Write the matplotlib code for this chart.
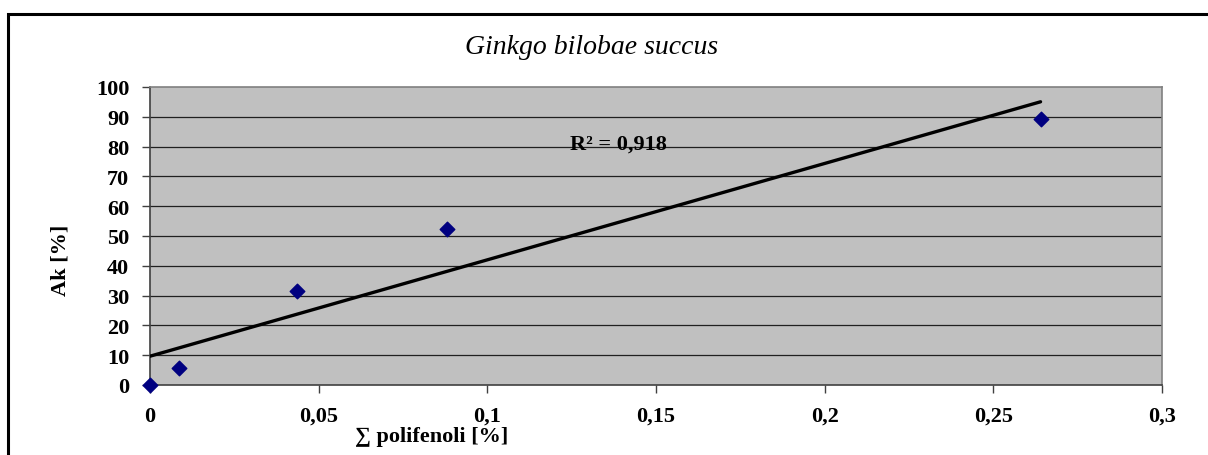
import numpy as np
import matplotlib.pyplot as plt
from matplotlib.patches import Rectangle
from matplotlib.ticker import FuncFormatter

plt.rcParams['font.family'] = ['Liberation Serif', 'DejaVu Serif']

# Ukupni polifenoli [%] i antioksidativna aktivnost Ak [%]
polifenoli = [0.0, 0.0085, 0.0436, 0.088, 0.264]
ak = [0.0, 5.8, 31.6, 52.4, 89.2]

x_ticks = [0, 0.05, 0.1, 0.15, 0.2, 0.25, 0.3]
y_ticks = list(range(0, 101, 10))

# linearni trend
k, n = np.polyfit(polifenoli, ak, 1)
pred = np.polyval([k, n], polifenoli)
r2 = 1 - np.sum((np.array(ak) - pred) ** 2) / np.sum((np.array(ak) - np.mean(ak)) ** 2)

fig = plt.figure(figsize=(12.08, 4.56), dpi=100)
W, H = 1208, 456
ax = fig.add_axes([150 / W, 1 - 386 / H, 1012 / W, 298 / H])

# okvir grafikona
fig.patches.append(Rectangle((8 / W, -0.05), 1.2, 1 - 15 / H + 0.05, transform=fig.transFigure,
                             fill=False, edgecolor='black', linewidth=2.2))

ax.set_facecolor('#c0c0c0')
for s in ax.spines.values():
    s.set_color('#808080')
    s.set_linewidth(1.2)
ax.spines['left'].set_color('#404040')
ax.spines['bottom'].set_color('#404040')

ax.set_xlim(0, 0.3)
ax.set_ylim(0, 100)
ax.set_xticks(x_ticks)
ax.set_yticks(y_ticks)
ax.xaxis.set_major_formatter(FuncFormatter(lambda v, p: ('%g' % v).replace('.', ',')))
ax.tick_params(axis='both', direction='out', length=6, width=1, color='#404040',
               labelsize=16)
ax.tick_params(axis='y', pad=9)
ax.tick_params(axis='x', pad=9)
for lab in ax.get_xticklabels() + ax.get_yticklabels():
    lab.set_fontweight('bold')

for yv in y_ticks[1:-1]:
    ax.axhline(yv, color='#202020', linewidth=0.9, zorder=1)

xs = np.array([0, max(polifenoli)])
ax.plot(xs, k * xs + n, color='black', linewidth=2.4, solid_capstyle='round', zorder=3)
ax.scatter(polifenoli, ak, marker='D', s=55, color='#000080', zorder=4, clip_on=False)

ax.text(0.1245, 81, 'R² = %s' % ('%.3f' % r2).replace('.', ','), fontsize=16,
        fontweight='bold', va='center', ha='left', zorder=5)

fig.text(592 / W, 1 - 48 / H, 'Ginkgo bilobae succus', fontsize=20, style='italic',
         ha='center', va='center')
fig.text(61 / W, 1 - 260 / H, 'Ak [%]', fontsize=16, fontweight='bold', rotation=90,
         ha='center', va='center')
fig.text(432 / W, 1 - 437 / H, '∑ polifenoli [%]', fontsize=16, fontweight='bold',
         ha='center', va='center')

fig.savefig('out.png', dpi=100, facecolor='white')
